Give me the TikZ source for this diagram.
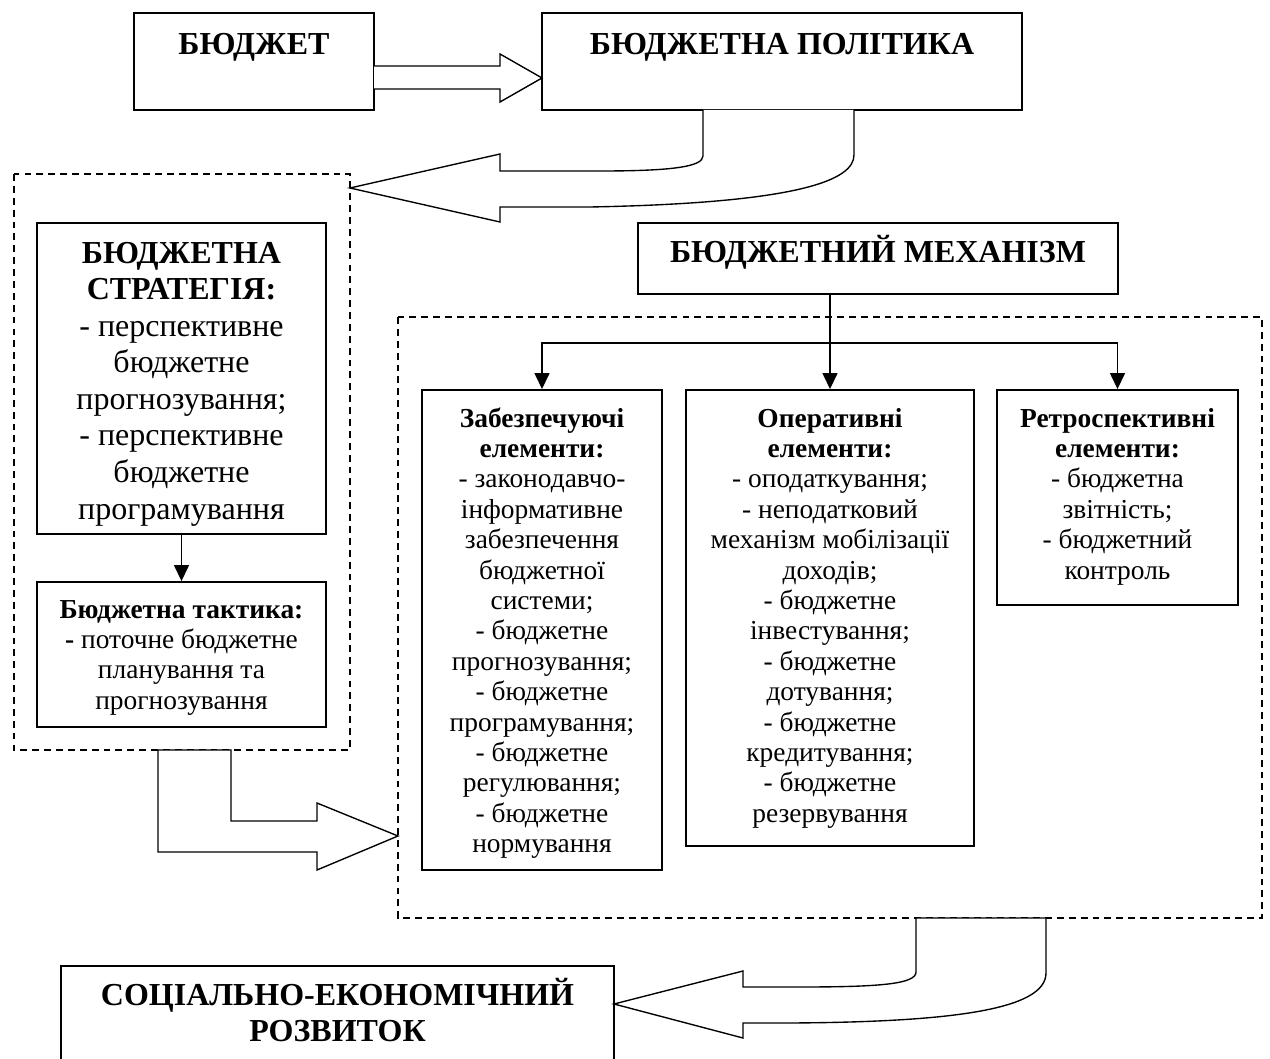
\documentclass[tikz,border=0pt]{standalone}
\usepackage{fontspec}
\setmainfont{Liberation Serif}
\usetikzlibrary{arrows.meta}

\newdimen\px
\px=0.4375pt
\newcommand{\bigfont}{\fontsize{14}{16}\selectfont}
\newcommand{\smallfont}{\fontsize{12}{13.3}\selectfont}
\newcommand{\boxtext}[4]{\parbox[c][#2\px][t]{#1\px}{\centering\rule{0pt}{#3\px}#4}}

\tikzset{
  box/.style={draw, line width=0.8pt, inner sep=0pt},
  group/.style={draw, dash pattern=on 3pt off 2.2pt, line width=0.6pt},
  blockarrow/.style={draw, fill=white, line width=0.6pt, line join=miter},
}

\begin{document}
\begin{tikzpicture}[x=0.4375pt, y=-0.4375pt, >={Triangle[length=7pt,width=6.5pt]}]
        \useasboundingbox (0,0) rectangle (1270,1059);

        % dashed groups
        \draw[group] (14,174) rectangle (350,750);
        \draw[group] (398,317) rectangle (1262,918);

        % boxes
        \node[box, font=\bigfont] (budget) at (254,61.5) {\boxtext{240}{97}{42}{\bfseries БЮДЖЕТ}};
        \node[box, font=\bigfont] (policy) at (782,61.5) {\boxtext{480}{97}{42}{\bfseries БЮДЖЕТНА ПОЛІТИКА}};
        \node[box, font=\bigfont] (strat) at (181.5,378.5) {\boxtext{289}{311}{40}{\textbf{БЮДЖЕТНА\\СТРАТЕГІЯ:}\\- перспективне\\бюджетне\\прогнозування;\\- перспективне\\бюджетне\\програмування}};
        \node[box, font=\smallfont] (tact) at (181.5,654.5) {\boxtext{289}{145}{36}{\textbf{Бюджетна тактика:}\\\textbf{-} поточне бюджетне\\планування та\\прогнозування}};
        \node[box, font=\bigfont] (mech) at (878,258.5) {\boxtext{480}{71}{40}{\bfseries БЮДЖЕТНИЙ МЕХАНІЗМ}};
        \node[box, font=\smallfont] (zab) at (542,630) {\boxtext{240}{480}{37}{\textbf{Забезпечуючі\\елементи:}\\- законодавчо-\\інформативне\\забезпечення\\бюджетної\\системи;\\- бюджетне\\прогнозування;\\- бюджетне\\програмування;\\- бюджетне\\регулювання;\\- бюджетне\\нормування}};
        \node[box, font=\smallfont] (oper) at (830,618) {\boxtext{288}{456}{37}{\textbf{Оперативні\\елементи:}\\- оподаткування;\\- неподатковий\\механізм мобілізації\\доходів;\\- бюджетне\\інвестування;\\- бюджетне\\дотування;\\- бюджетне\\кредитування;\\- бюджетне\\резервування}};
        \node[box, font=\smallfont] (retro) at (1117.5,497.5) {\boxtext{241}{215}{37}{\textbf{Ретроспективні\\елементи:}\\- бюджетна\\звітність;\\- бюджетний\\контроль}};
        \node[box, font=\bigfont] (socio) at (337.5,1023) {\boxtext{553}{114}{39}{\bfseries СОЦІАЛЬНО-ЕКОНОМІЧНИЙ\\РОЗВИТОК}};

        % black arrows
        \draw[->, line width=0.8pt] (strat.south) -- (tact.north);
        \coordinate (fork) at (830,343);
        \draw[->, line width=0.8pt] (mech.south -| oper.north) -- (oper.north);
        \draw[->, line width=0.8pt] (fork) -| (zab.north);
        \draw[->, line width=0.8pt] (fork) -| (retro.north);

        % block arrows
        \draw[blockarrow] (374,66) -- (500,66) -- (500,54) -- (542,78) -- (500,102) -- (500,89) -- (374,89);
        \draw[blockarrow] (854,110) -- (854,155) .. controls (854,180) and (800,203) .. (590,207) -- (500,207) -- (500,222) -- (350,188) -- (500,154) -- (500,171) -- (600,171) .. controls (670,171) and (703,167) .. (703,156) -- (703,110);
        \draw[blockarrow] (158,750) -- (231,750) -- (231,821) -- (317,821) -- (317,803) -- (398,836) -- (317,870) -- (317,852) -- (158,852) -- cycle;
        \draw[blockarrow] (916,918) -- (1046,918) -- (1046,973) .. controls (1046,1010) and (950,1022) .. (790,1023) -- (743,1023) -- (743,1038) -- (614,1004) -- (743,971) -- (743,987) -- (800,987) .. controls (880,987) and (916,984) .. (916,972) -- cycle;

    \end{tikzpicture}
\end{document}
